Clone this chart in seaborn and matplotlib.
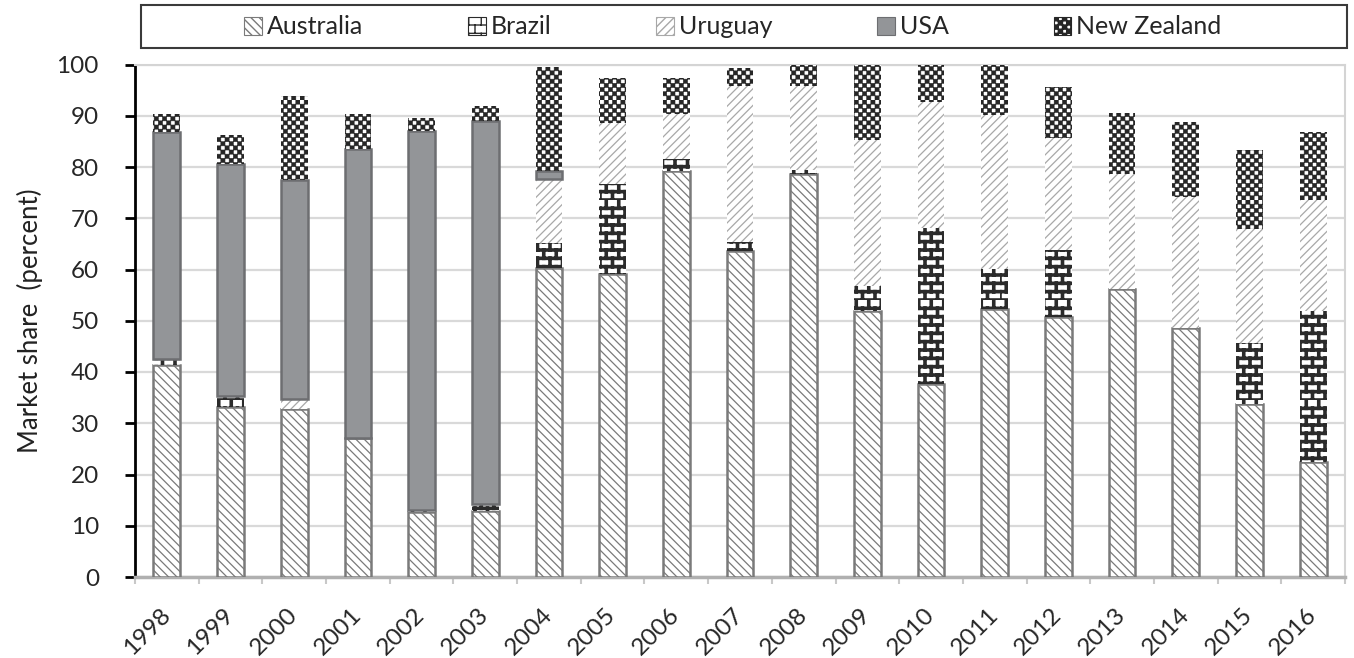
import warnings
warnings.filterwarnings("ignore")
import numpy as np
import matplotlib
matplotlib.use("Agg")
import matplotlib.pyplot as plt
import matplotlib.hatch as mhatch
from matplotlib.path import Path
from matplotlib.patches import Patch, Rectangle
import seaborn as sns

years = [str(y) for y in range(1998, 2017)]
australia = [41.4, 33.1, 32.7, 27.1, 12.7, 12.8, 60.3, 59.2, 79.3, 63.6,
             78.6, 51.9, 37.6, 52.3, 50.8, 56.2, 48.6, 33.8, 22.4]
brazil = [1.2, 2.3, 0.0, 0.0, 0.4, 1.4, 4.8, 17.4, 2.3, 1.7,
          0.8, 4.8, 30.5, 7.8, 13.0, 0.0, 0.0, 11.8, 29.5]
uruguay = [0.0, 0.0, 2.1, 0.0, 0.0, 0.0, 12.5, 12.0, 8.8, 30.5,
           16.5, 28.6, 24.6, 30.1, 21.9, 22.4, 25.6, 22.4, 21.6]
usa = [44.3, 45.2, 42.6, 56.5, 73.9, 74.8, 1.7, 0.0, 0.0, 0.0,
       0.0, 0.0, 0.0, 0.0, 0.0, 0.0, 0.0, 0.0, 0.0]
new_zealand = [3.5, 5.7, 16.5, 6.8, 2.6, 2.9, 20.2, 8.8, 7.0, 3.5,
               4.1, 14.7, 7.3, 9.8, 9.9, 11.9, 14.5, 15.3, 13.4]
series_names = ["Australia", "Brazil", "Uruguay", "USA", "New Zealand"]


# custom brick hatch, triggered by the character 'b'
class BrickHatch(mhatch.HatchPatternBase):
    def __init__(self, hatch, density):
        n = hatch.count("b")
        self.rows = 12 * n
        self.cols = 8
        self.num_vertices = (self.rows * 2 + self.rows * self.cols * 2) if n else 0

    def set_vertices_and_codes(self, vertices, codes):
        verts = []
        h = 1.0 / self.rows
        for i in range(self.rows):
            y = i * h
            verts += [(0.0, y), (1.0, y)]
            off = (0.5 / self.cols) if i % 2 else 0.0
            for k in range(self.cols):
                x = k / self.cols + off
                verts += [(x, y), (x, y + h)]
        vertices[:] = np.array(verts)
        codes[0::2] = Path.MOVETO
        codes[1::2] = Path.LINETO


# custom checkerboard hatch, triggered by the character 'c'
class CheckerHatch(mhatch.HatchPatternBase):
    def __init__(self, hatch, density):
        n = hatch.count("c")
        self.cells = 24 * n
        self.num_vertices = (self.cells * self.cells // 2) * 5 if n else 0

    def set_vertices_and_codes(self, vertices, codes):
        s = 1.0 / self.cells
        verts = []
        cds = []
        for i in range(self.cells):
            for j in range(self.cells):
                if (i + j) % 2 == 0:
                    x, y = j * s, i * s
                    verts += [(x, y), (x + s, y), (x + s, y + s), (x, y + s), (x, y)]
                    cds += [Path.MOVETO, Path.LINETO, Path.LINETO, Path.LINETO, Path.CLOSEPOLY]
        vertices[:] = np.array(verts)
        codes[:] = np.array(cds, dtype=codes.dtype)


mhatch._hatch_types.append(BrickHatch)
mhatch._hatch_types.append(CheckerHatch)

sns.set_theme(style="white")
plt.rcParams["font.family"] = ["Lato", "DejaVu Sans"]

styles = {
    "Australia": dict(facecolor="white", edgecolor="#7a7a7a", hatch="\\\\\\\\", linewidth=1.8, hlw=0.9),
    "Brazil": dict(facecolor="white", edgecolor="#2b2b2b", hatch="b", linewidth=0.0, hlw=2.6),
    "Uruguay": dict(facecolor="white", edgecolor="#a8a8a8", hatch="////", linewidth=0.0, hlw=0.9),
    "USA": dict(facecolor="#939598", edgecolor="#6d6e71", hatch=None, linewidth=1.8, hlw=1.0),
    "New Zealand": dict(facecolor="white", edgecolor="#262626", hatch="c", linewidth=0.0, hlw=0.4),
}
data = {"Australia": australia, "Brazil": brazil, "Uruguay": uruguay,
        "USA": usa, "New Zealand": new_zealand}

fig = plt.figure(figsize=(13.54, 6.58), dpi=100)
ax = fig.add_axes([135 / 1354, 81 / 658, 1210 / 1354, 512.5 / 658])

bottom = np.zeros(len(years))
for name in series_names:
    vals = np.array(data[name], dtype=float)
    st = styles[name]
    plt.rcParams["hatch.linewidth"] = st["hlw"]
    sns.barplot(x=years, y=vals, bottom=bottom, ax=ax, width=0.42,
                color=st["facecolor"], saturation=1, errorbar=None)
    for p, v in zip(ax.containers[-1], vals):
        p.set_facecolor(st["facecolor"])
        p.set_edgecolor(st["edgecolor"])
        p.set_linewidth(st["linewidth"])
        if st["hatch"]:
            p.set_hatch(st["hatch"])
            if hasattr(p, "set_hatch_linewidth"):
                p.set_hatch_linewidth(st["hlw"])
        p.set_zorder(3)
        if v <= 0:
            p.set_visible(False)
    bottom = bottom + vals

ax.set_xlim(-0.5, len(years) - 0.5)
ax.set_ylim(0, 100)
ax.set_yticks(np.arange(0, 101, 10))
ax.set_axisbelow(True)
ax.yaxis.grid(True, color="#d9d9d9", linewidth=1.6)
ax.xaxis.grid(False)

for s in ["top", "right"]:
    ax.spines[s].set_color("#d4d4d4")
    ax.spines[s].set_linewidth(1.5)
ax.spines["left"].set_color("black")
ax.spines["left"].set_linewidth(2.0)
ax.spines["bottom"].set_color("#b0b0b0")
ax.spines["bottom"].set_linewidth(2.5)

ax.tick_params(axis="y", which="major", left=True, direction="out", length=7,
               width=2, color="black", labelsize=17.5, pad=19)
ax.set_xticks(np.arange(-0.5, len(years), 1), minor=True)
ax.tick_params(axis="x", which="major", length=0, labelsize=17.5, pad=25)
ax.tick_params(axis="x", which="minor", bottom=True, length=5, width=1.5,
               color="#c8c8c8", direction="out")
for lab in ax.get_xticklabels():
    lab.set_rotation(45)
    lab.set_ha("right")
    lab.set_va("center")
    lab.set_rotation_mode("anchor")

ax.set_xlabel("")
ax.set_ylabel("Market share  (percent)", fontsize=18.5, color="#222222", labelpad=10)

# legend box
fig.patches.append(Rectangle((141 / 1354, 1 - 48 / 658), 1206 / 1354, 43 / 658,
                             transform=fig.transFigure, facecolor="white",
                             edgecolor="#3a3a3a", linewidth=1.5, zorder=0))
handles = []
for name in series_names:
    st = styles[name]
    handles.append(Patch(facecolor=st["facecolor"], edgecolor=st["edgecolor"],
                         hatch=st["hatch"], linewidth=0.8, label=name))
plt.rcParams["hatch.linewidth"] = 1.0
leg = fig.legend(handles=handles, loc="center", bbox_to_anchor=(733 / 1354, 1 - 27 / 658),
                 ncol=5, frameon=False, fontsize=18, handlelength=0.7,
                 handleheight=0.7, handletextpad=0.2, columnspacing=4.2)

fig.savefig("out.png", dpi=100)
